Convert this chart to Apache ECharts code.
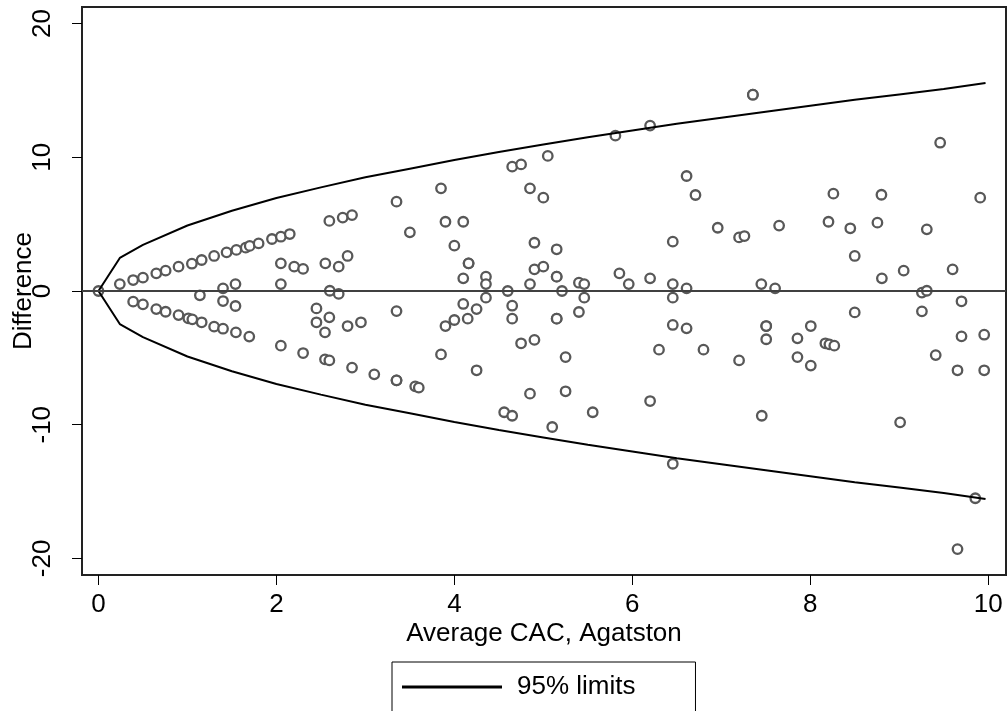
<!DOCTYPE html>
<html>
<head>
<meta charset="utf-8">
<script src="https://cdn.jsdelivr.net/npm/echarts@6/dist/echarts.min.js"></script>
<style>html,body{margin:0;padding:0;background:#fff}#chart{width:1008px;height:711px}</style>
</head>
<body>
<div id="chart"></div>
<script>
const avgCAC = [
  0,
  0.24,0.39,0.50,0.65,0.755,0.90,1.05,1.16,1.30,1.44,1.55,1.655,1.70,1.80,1.95,2.05,2.15,2.595,2.745,2.85,
  0.39,0.50,0.65,0.755,0.90,1.01,1.055,1.16,1.30,1.40,1.545,1.695,2.05,2.30,2.546,2.595,2.85,3.10,3.35,3.35,3.56,3.60,
  1.14,1.40,1.40,1.54,1.54,
  2.05,2.20,2.30,2.55,2.70,2.80,2.05,2.60,2.70,2.45,2.45,2.595,2.546,2.80,2.95,
  3.35,3.50,3.35,
  3.85,3.90,4.10,4.00,4.16,4.16,4.10,4.355,4.355,4.355,4.60,4.65,4.65,4.10,4.25,4.15,4.00,3.90,4.75,4.90,3.85,4.25,4.85,5.25,5.25,4.56,4.65,5.10,5.555,
  4.65,4.75,5.05,4.85,5.00,4.90,5.15,4.90,5.00,5.15,5.15,4.85,5.21,5.40,5.46,5.46,5.40,5.15,5.15,
  5.81,6.20,6.61,6.71,6.455,5.855,5.96,6.20,6.455,6.455,6.61,6.455,6.61,6.30,6.80,6.20,6.455,
  6.96,7.20,7.26,7.355,7.355,7.65,8.205,8.26,8.45,8.755,8.80,9.31,9.46,9.91,
  8.50,8.805,9.05,9.60,7.45,7.605,9.255,9.31,9.70,8.50,9.255,7.505,7.505,7.505,8.006,7.856,8.17,8.215,8.27,7.856,8.006,7.20,9.70,9.955,9.41,9.655,9.955,7.455,9.01,9.855,9.655
];
const diffCAC = [
  0,
  0.52,0.82,1.0,1.32,1.52,1.82,2.04,2.32,2.62,2.89,3.07,3.24,3.37,3.56,3.89,4.06,4.26,5.24,5.49,5.68,
  -0.80,-1.0,-1.35,-1.55,-1.80,-2.04,-2.12,-2.34,-2.67,-2.82,-3.09,-3.41,-4.09,-4.64,-5.11,-5.19,-5.73,-6.23,-6.68,-6.68,-7.13,-7.23,
  -0.32,0.2,-0.75,0.52,-1.12,
  2.07,1.82,1.65,2.07,1.82,2.62,0.52,0.02,-0.22,-1.3,-2.34,-1.97,-3.09,-2.62,-2.34,
  6.68,4.39,-1.50,
  7.68,5.18,5.18,3.39,2.07,2.07,0.95,1.07,0.52,-0.5,0,-1.10,-2.07,-0.97,-1.35,-2.07,-2.17,-2.62,-3.91,-3.66,-4.74,-5.93,-7.68,-7.50,-4.94,-9.07,-9.33,-10.17,-9.07,
  9.30,9.47,10.10,7.68,6.98,3.61,3.12,1.62,1.82,1.07,1.07,0.52,0,0.62,0.52,-0.5,-1.57,-2.07,-2.07,
  11.62,12.37,8.60,7.18,3.69,1.32,0.52,0.95,0.52,-0.5,0.2,-2.54,-2.79,-4.39,-4.39,-8.23,-12.92,
  4.73,4.01,4.11,14.68,14.68,4.89,5.18,7.28,4.69,5.11,7.20,4.61,11.09,6.98,
  2.62,0.95,1.52,1.62,0.52,0.2,-0.12,0.02,-0.77,-1.6,-1.52,-2.62,-2.62,-3.61,-2.62,-3.54,-3.91,-3.99,-4.09,-4.94,-5.58,-5.19,-3.39,-3.27,-4.79,-5.93,-5.93,-9.33,-9.82,-15.5,-19.3
];
// 95% limit curves
const limitX     = [0, 0.24, 0.5, 1, 1.5, 2, 2.5, 3, 3.5, 4, 4.5, 5, 5.5, 6, 6.5, 7, 7.5, 8, 8.5, 9, 9.5, 9.97];
const limitUpper = [0, 2.47, 3.45, 4.9, 6.0, 6.95, 7.75, 8.5, 9.15, 9.8, 10.4, 10.95, 11.5, 12.0, 12.5, 12.95, 13.4, 13.85, 14.3, 14.7, 15.1, 15.55];
const limitLower = [0, -2.47, -3.45, -4.9, -6.0, -6.95, -7.75, -8.5, -9.15, -9.8, -10.4, -10.95, -11.5, -12.0, -12.5, -12.95, -13.4, -13.85, -14.3, -14.7, -15.1, -15.55];
const xTicks = [0, 2, 4, 6, 8, 10];
const yTicks = [-20, -10, 0, 10, 20];

const FONT = 'Liberation Sans';
const FS = 26;
const chart = echarts.init(document.getElementById('chart'), null, {renderer: 'canvas'});
chart.setOption({
  animation: false,
  backgroundColor: '#fff',
  textStyle: {fontFamily: FONT},
  grid: {left: 82, right: 2, top: 7, bottom: 136, containLabel: false, outerBoundsMode: 'none',
         show: true, borderColor: '#222', borderWidth: 2, backgroundColor: '#fff'},
  legend: {
    data: [{name: '95% limits', icon: 'rect'}],
    top: 662, left: 392,
    padding: [12, 60, 36, 10],
    itemWidth: 100, itemHeight: 3, itemGap: 10,
    borderColor: '#000', borderWidth: 1,
    itemStyle: {color: '#000', borderWidth: 0},
    textStyle: {fontFamily: FONT, fontSize: FS, color: '#000', padding: [0, 0, 0, 10]}
  },
  xAxis: {
    type: 'value', min: -0.185, max: 10.2,
    name: 'Average CAC, Agatston', nameLocation: 'middle', nameGap: 46, nameMoveOverlap: false,
    nameTextStyle: {fontFamily: FONT, fontSize: FS, color: '#000'},
    axisLine: {show: false, onZero: false},
    axisTick: {show: true, inside: false, length: 10, customValues: xTicks, lineStyle: {color: '#000', width: 1}},
    axisLabel: {customValues: xTicks, fontFamily: FONT, fontSize: FS, color: '#000', margin: 17},
    splitLine: {show: false}
  },
  yAxis: {
    type: 'value', min: -21.24, max: 21.24,
    name: 'Difference', nameLocation: 'middle', nameGap: 45, nameMoveOverlap: false,
    nameTextStyle: {fontFamily: FONT, fontSize: FS, color: '#000'},
    axisLine: {show: false, onZero: false},
    axisTick: {show: true, inside: false, length: 10, customValues: yTicks, lineStyle: {color: '#000', width: 1}},
    axisLabel: {customValues: yTicks, rotate: 90, fontFamily: FONT, fontSize: FS, color: '#000', margin: 26},
    splitLine: {show: false}
  },
  series: [
    {
      name: 'points', type: 'scatter',
      data: avgCAC.map((x, i) => [x, diffCAC[i]]),
      symbol: 'circle', symbolSize: 9.5,
      itemStyle: {color: '#fff', borderColor: '#585858', borderWidth: 2.3, opacity: 1},
      z: 3,
      markLine: {
        silent: true, symbol: ['none', 'none'], label: {show: false},
        lineStyle: {color: '#404040', width: 2, type: 'solid'},
        data: [{yAxis: 0}]
      }
    },
    {
      name: '95% limits', type: 'line', showSymbol: false, symbol: 'none',
      data: limitX.map((x, i) => [x, limitUpper[i]]),
      lineStyle: {color: '#000', width: 2}, itemStyle: {color: '#000'}, z: 4
    },
    {
      name: '95% limits', type: 'line', showSymbol: false, symbol: 'none',
      data: limitX.map((x, i) => [x, limitLower[i]]),
      lineStyle: {color: '#000', width: 2}, itemStyle: {color: '#000'}, z: 4
    }
  ]
});
</script>
</body>
</html>
